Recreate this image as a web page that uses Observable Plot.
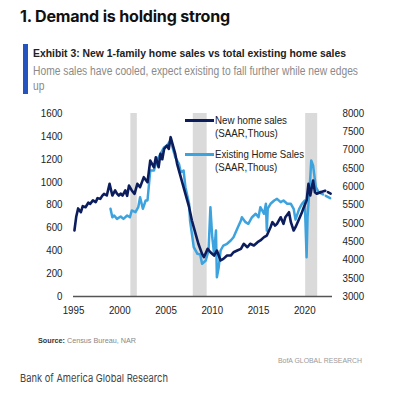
<!DOCTYPE html>
<html><head><meta charset="utf-8">
<script src="https://cdn.jsdelivr.net/npm/d3@7"></script>
<script src="https://cdn.jsdelivr.net/npm/@observablehq/plot@0.6"></script>
<style>
body{margin:0;background:#fff;width:393px;height:394px;position:relative;overflow:hidden;font-family:"Liberation Sans",Arial,sans-serif}
.abs{position:absolute;white-space:nowrap;transform-origin:0 0}
#title{left:20px;top:6px;font:700 16px Inter,"Liberation Sans",sans-serif;color:#111;letter-spacing:-0.2px}
#bar{left:23px;top:44px;width:5px;height:50px;background:#2553c0}
#exh{left:33px;top:47px;font:700 11.5px "Liberation Sans",sans-serif;color:#222}
.sub{left:33px;font:400 12px "Liberation Sans",sans-serif;color:#8a8a8a}
#chart{left:0;top:100px}
.leg{font:400 10.5px "Liberation Sans",sans-serif;color:#222;line-height:13px}
#src{left:38px;top:336px;font:400 8px "Liberation Sans",sans-serif;color:#888}
#src b{color:#333}
#bofa{left:278px;top:356px;font:400 8px "Liberation Sans",sans-serif;color:#9a9a9a}
#foot{left:20px;top:371px;font:400 11px Inter,"Liberation Sans",sans-serif;color:#444}
</style></head>
<body>
<div id="title" class="abs">1. Demand is holding strong</div>
<div id="bar" class="abs"></div>
<div id="exh" class="abs">Exhibit 3: New 1-family home sales vs total existing home sales</div>
<div id="sub1" class="abs sub" style="top:64px">Home sales have cooled, expect existing to fall further while new edges</div>
<div id="sub2" class="abs sub" style="top:79px">up</div>
<div id="chart" class="abs"></div>
<div id="legend"></div>
<div id="src" class="abs"><b>Source:</b> Census Bureau, NAR</div>
<div id="bofa" class="abs">BofA GLOBAL RESEARCH</div>
<div id="foot" class="abs">Bank of America Global Research</div>
<script>
// New 1-family home sales (SAAR, thousands) – left axis
const newYears = [1995.1,1995.3,1995.5,1995.8,1996.0,1996.3,1996.6,1996.8,1997.1,1997.4,1997.6,1997.9,1998.1,1998.3,1998.6,1998.9,1999.2,1999.5,1999.7,1999.9,2000.1,2000.3,2000.6,2000.8,2001.0,2001.3,2001.6,2001.9,2002.2,2002.4,2002.6,2003.0,2003.3,2003.7,2003.9,2004.2,2004.4,2004.6,2004.8,2005.1,2005.3,2005.5,2005.7,2006.0,2006.2,2006.5,2006.8,2007.1,2007.5,2007.8,2008.2,2008.5,2008.9,2009.1,2009.5,2009.8,2010.2,2010.5,2010.9,2011.2,2011.6,2012.0,2012.3,2012.7,2013.1,2013.4,2013.8,2014.1,2014.5,2014.9,2015.2,2015.6,2015.9,2016.3,2016.5,2016.8,2017.0,2017.4,2017.7,2017.9,2018.3,2018.5,2018.8,2019.0,2019.4,2019.7,2019.9,2020.2,2020.4,2020.6,2020.9,2021.1,2021.3,2021.7];
const newVals  = [577,700,770,737,790,780,820,810,840,825,860,854,880,898,883,985,883,927,900,883,900,883,927,880,970,927,898,985,956,1000,1043,999,1189,1130,1218,1130,1247,1200,1291,1320,1290,1393,1335,1247,1160,1073,985,898,781,664,548,461,373,344,417,387,358,402,315,329,358,358,387,402,417,461,431,461,446,475,490,519,533,606,650,620,635,693,635,693,737,650,577,606,679,737,781,839,985,883,1014,912,898,912];
const newFcstYears = [2021.7,2022.2,2022.8];
const newFcstVals  = [912,925,900];

// Existing home sales (SAAR, thousands) – right axis
const exYears = [1999.0,1999.2,1999.4,1999.7,2000.1,2000.4,2000.8,2001.1,2001.3,2001.7,2002.0,2002.2,2002.5,2002.8,2003.0,2003.3,2003.7,2004.0,2004.4,2004.8,2005.1,2005.5,2005.7,2006.0,2006.4,2006.6,2006.9,2007.1,2007.5,2007.6,2008.0,2008.4,2008.7,2008.9,2009.3,2009.6,2009.8,2010.0,2010.2,2010.4,2010.5,2010.7,2010.9,2011.2,2011.6,2012.0,2012.3,2012.7,2013.1,2013.2,2013.6,2013.9,2014.3,2014.7,2015.0,2015.2,2015.6,2015.8,2015.9,2016.0,2016.3,2016.7,2017.0,2017.4,2017.7,2018.1,2018.5,2018.8,2019.0,2019.4,2019.7,2020.0,2020.2,2020.3,2020.6,2020.7,2020.9,2021.2,2021.5];
const exVals  = [5396,5166,5213,5122,5186,5122,5213,5166,5350,5303,5440,5713,5396,5623,5623,6443,6443,6716,6899,7079,7125,7262,7079,6806,6625,6396,6443,5986,5533,5076,4347,4167,4150,3893,3984,4257,5440,4620,4167,4803,3527,3800,4257,4393,4440,4530,4620,4850,5076,5166,5030,4986,5166,5260,5166,5440,5260,5533,4800,5400,5533,5623,5669,5577,5623,5533,5533,5396,5100,5396,5533,5623,4074,5166,6260,6716,6580,5986,5850];
const exFcstYears = [2021.5,2022.2,2022.9];
const exFcstVals  = [5850,5760,5669];

// Recession shading
const recStart = [2001.2, 2007.95, 2020.1];
const recEnd   = [2001.9, 2009.45, 2021.4];

const xTicks = [1995,2000,2005,2010,2015,2020];
const leftTicks = [0,200,400,600,800,1000,1200,1400,1600];
const rightTicks = [3000,3500,4000,4500,5000,5500,6000,6500,7000,7500,8000];

const NAVY = "#0c1d5e", LIGHT = "#3da3de";
const toLeft = v => (v - 3000) * 1600 / 5000;
const fromLeft = v => v * 5000 / 1600 + 3000;

const newData = newYears.map((x,i)=>({x, y:newVals[i]}));
const newF = newFcstYears.map((x,i)=>({x, y:newFcstVals[i]}));
const exData = exYears.map((x,i)=>({x, y:toLeft(exVals[i])}));
const exF = exFcstYears.map((x,i)=>({x, y:toLeft(exFcstVals[i])}));
const recs = recStart.map((s,i)=>({x1:s, x2:recEnd[i]}));

const plot = Plot.plot({
  width: 393, height: 230,
  marginLeft: 73, marginRight: 61, marginTop: 13, marginBottom: 34,
  style: {fontFamily: '"Liberation Sans",Arial,sans-serif', fontSize: "10.5px", color: "#222", background: "#fff"},
  x: {domain: [1995, 2023]},
  y: {domain: [0, 1600]},
  marks: [
    Plot.rect(recs, {x1: "x1", x2: "x2", fill: "#dadada"}),
    Plot.ruleY([0], {stroke: "#555", strokeWidth: 1.5}),
    Plot.line(exData, {x: "x", y: "y", stroke: LIGHT, strokeWidth: 2.5}),
    Plot.line(exF, {x: "x", y: "y", stroke: LIGHT, strokeWidth: 2.5, strokeDasharray: "5,3"}),
    Plot.line(newData, {x: "x", y: "y", stroke: NAVY, strokeWidth: 2.6}),
    Plot.line(newF, {x: "x", y: "y", stroke: NAVY, strokeWidth: 2.6, strokeDasharray: "5,3"}),
    Plot.axisX({ticks: xTicks, tickFormat: d => String(d), tickSize: 0, tickPadding: 10, label: null}),
    Plot.axisY({ticks: leftTicks, tickSize: 0, tickPadding: 11, label: null, tickFormat: d => String(d)}),
    Plot.axisY({anchor: "right", ticks: rightTicks.map(toLeft), tickSize: 0, tickPadding: 10, label: null, tickFormat: d => String(Math.round(fromLeft(d)))})
  ]
});
document.getElementById("chart").appendChild(plot);

// condense tick labels slightly (narrow typeface look)
plot.querySelectorAll("g[aria-label$='tick label'] text").forEach(t => {
  const w = t.getComputedTextLength();
  t.setAttribute("textLength", (w * 0.93).toFixed(2));
  t.setAttribute("lengthAdjust", "spacingAndGlyphs");
});

// legend
const leg = document.getElementById("legend");
const items = [
  {color: NAVY, lines: ["New home sales", "(SAAR,Thous)"], top: 114, w: 72},
  {color: LIGHT, lines: ["Existing Home Sales", "(SAAR,Thous)"], top: 148, w: 89}
];
items.forEach(it => {
  const sw = document.createElement("div");
  sw.className = "abs";
  sw.style.cssText = `left:185px;top:${it.top+5}px;width:29px;height:3px;background:${it.color}`;
  leg.appendChild(sw);
  const t = document.createElement("div");
  t.className = "abs leg";
  t.style.left = "215px"; t.style.top = it.top + "px";
  t.innerHTML = it.lines.join("<br>");
  leg.appendChild(t);
  fit(t, it.w);
});

function fit(el, target) {
  const w = el.getBoundingClientRect().width;
  el.style.transform = `scaleX(${target / w})`;
}
fit(document.getElementById("title"), 210);
fit(document.getElementById("exh"), 313);
fit(document.getElementById("sub1"), 325);
fit(document.getElementById("src"), 98);
fit(document.getElementById("bofa"), 84);
fit(document.getElementById("foot"), 148);
document.getElementById("sub2").style.transform = document.getElementById("sub1").style.transform;
</script>
</body></html>
